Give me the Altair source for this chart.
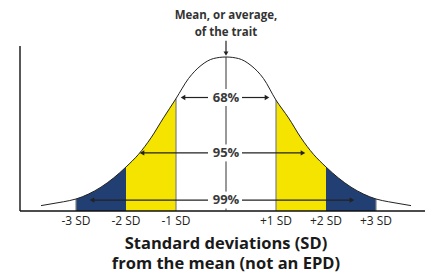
import altair as alt
import pandas as pd

# ---- data ----
sd = [-3.7, -3.5, -3.25, -3.0, -2.75, -2.5, -2.25, -2.0, -1.75, -1.5, -1.25, -1.0, -0.75, -0.5, -0.25, 0.0,
      0.25, 0.5, 0.75, 1.0, 1.25, 1.5, 1.75, 2.0, 2.25, 2.5, 2.75, 3.0, 3.25, 3.5, 3.7]
height = [3.5, 4.6, 6.0, 7.8, 11.0, 15.5, 21.4, 28.6, 36.8, 47.5, 60.5, 73.0, 86.0, 94.5, 99.0, 100.0,
          99.0, 94.5, 86.0, 72.0, 60.5, 47.5, 36.8, 28.6, 21.4, 15.5, 11.0, 7.8, 6.0, 4.6, 3.5]

band_names = ["-3 to -2", "-2 to -1", "+1 to +2", "+2 to +3"]
band_lo = [-3, -2, 1, 2]
band_hi = [-2, -1, 2, 3]
band_kind = ["outer", "inner", "inner", "outer"]

tick_pos = [-3, -2, -1, 1, 2, 3]
tick_text = ["-3 SD", "-2 SD", "-1 SD", "+1 SD", "+2 SD", "+3 SD"]

pct_text = ["68%", "95%", "99%"]
pct_level = [73.7, 37.7, 7.1]
pct_left = [-0.86, -1.68, -2.68]
pct_right = [0.82, 1.54, 2.52]

mean_text = "Mean, or average,\nof the trait"
mean_level = 126.5

title_text = "Standard deviations (SD)\nfrom the mean (not an EPD)"
title_level = -21.4

# ---- layout ----
X = [-4.36, 3.98]
Y = [-40.26, 131.82]
xs = alt.Scale(domain=X, nice=False, zero=False)
ys = alt.Scale(domain=Y, nice=False, zero=False)
NAVY = "#223F73"
YELLOW = "#F4E400"
INK = "#222222"
FONT = "Open Sans"

curve = pd.DataFrame({"sd": sd, "h": height})
curve["base"] = 0.0

bands = []
for n, lo, hi, k in zip(band_names, band_lo, band_hi, band_kind):
    sub = curve[(curve.sd >= lo) & (curve.sd <= hi)].copy()
    sub["band"] = n
    sub["kind"] = k
    bands.append(sub)
band_df = pd.concat(bands)

def X_(f):
    return alt.X(f, scale=xs, axis=None)

def Y_(f):
    return alt.Y(f, scale=ys, axis=None)

area = alt.Chart(band_df).mark_area(interpolate="monotone", opacity=1).encode(
    x=X_("sd:Q"), y=Y_("h:Q"), y2="base:Q",
    color=alt.Color("kind:N", scale=alt.Scale(domain=["outer", "inner"], range=[NAVY, YELLOW]), legend=None),
    detail="band:N",
)

edges = curve[curve.sd.isin([-3.0, -1.0, 1.0, 3.0])].copy()
edge_rule = alt.Chart(edges).mark_rule(color="#808080", strokeWidth=1.2).encode(
    x=X_("sd:Q"), y=Y_("base:Q"), y2="h:Q"
)

line = alt.Chart(curve).mark_line(interpolate="monotone", color=INK, strokeWidth=1).encode(
    x=X_("sd:Q"), y=Y_("h:Q")
)

# axes
axes_df = pd.DataFrame({"x": [-4.12, -4.12], "x2": [-4.12, 4.0], "y": [0.0, 0.0], "y2": [107.1, 0.0]})
axes = alt.Chart(axes_df).mark_rule(color="#111111", strokeWidth=1.4).encode(
    x=X_("x:Q"), x2="x2:Q", y=Y_("y:Q"), y2="y2:Q"
)

# centre line, broken around labels
gap = 5.5
seg_top = [100.0] + [lvl - gap for lvl in pct_level]
seg_bot = [lvl + gap for lvl in pct_level] + [0.0]
center_df = pd.DataFrame({"y": seg_top, "y2": seg_bot})
center_df["x"] = 0.0
center = alt.Chart(center_df).mark_rule(color="#333333", strokeWidth=1).encode(
    x=X_("x:Q"), y=Y_("y:Q"), y2="y2:Q"
)

# percentage arrows
arr_rows = []
for lvl, l, r in zip(pct_level, pct_left, pct_right):
    arr_rows.append({"x": l, "x2": -0.36, "y": lvl})
    arr_rows.append({"x": 0.32, "x2": r, "y": lvl})
arr_df = pd.DataFrame(arr_rows)
arrows = alt.Chart(arr_df).mark_rule(color=INK, strokeWidth=1.2).encode(
    x=X_("x:Q"), x2="x2:Q", y=Y_("y:Q")
)
headL = alt.Chart(pd.DataFrame({"x": pct_left, "y": pct_level})).mark_point(
    shape="triangle-left", filled=True, color=INK, size=28, opacity=1
).encode(x=X_("x:Q"), y=Y_("y:Q"))
headR = alt.Chart(pd.DataFrame({"x": pct_right, "y": pct_level})).mark_point(
    shape="triangle-right", filled=True, color=INK, size=28, opacity=1
).encode(x=X_("x:Q"), y=Y_("y:Q"))

pct_lbl = alt.Chart(pd.DataFrame({"x": [0.0] * 3, "y": pct_level, "t": pct_text})).mark_text(
    font=FONT, fontSize=13, fontWeight="bold", color="#3a3a3a", baseline="middle"
).encode(x=X_("x:Q"), y=Y_("y:Q"), text="t:N")

# mean arrow
mean_arrow = alt.Chart(pd.DataFrame({"x": [0.0], "y": [110.5], "y2": [102.0]})).mark_rule(
    color=INK, strokeWidth=1.2
).encode(x=X_("x:Q"), y=Y_("y:Q"), y2="y2:Q")
mean_head = alt.Chart(pd.DataFrame({"x": [0.0], "y": [102.2]})).mark_point(
    shape="triangle-down", filled=True, color=INK, size=24, opacity=1
).encode(x=X_("x:Q"), y=Y_("y:Q"))
mean_lbl = alt.Chart(pd.DataFrame({"x": [0.0], "y": [mean_level], "t": [mean_text]})).mark_text(
    font=FONT, fontSize=11.5, fontWeight="bold", color="#333333", baseline="middle",
    lineBreak="\n", lineHeight=17
).encode(x=X_("x:Q"), y=Y_("y:Q"), text="t:N")

tick_lbl = alt.Chart(pd.DataFrame({"x": tick_pos, "y": [-6.5] * 6, "t": tick_text})).mark_text(
    font=FONT, fontSize=12, color="#222222", baseline="middle"
).encode(x=X_("x:Q"), y=Y_("y:Q"), text="t:N")

title = alt.Chart(pd.DataFrame({"x": [0.0], "y": [title_level], "t": [title_text]})).mark_text(
    font=FONT, fontSize=16.5, fontWeight="bold", color="#1a1a1a", baseline="middle",
    lineBreak="\n", lineHeight=20
).encode(x=X_("x:Q"), y=Y_("y:Q"), text="t:N")

chart = alt.layer(
    area, edge_rule, line, axes, center, arrows, headL, headR, pct_lbl,
    mean_arrow, mean_head, mean_lbl, tick_lbl, title
).properties(
    width=417, height=265, padding=0, autosize=alt.AutoSizeParams(type="none")
).configure_view(stroke=None)

chart.save("out.html", embed_options={"renderer": "svg", "actions": False})
